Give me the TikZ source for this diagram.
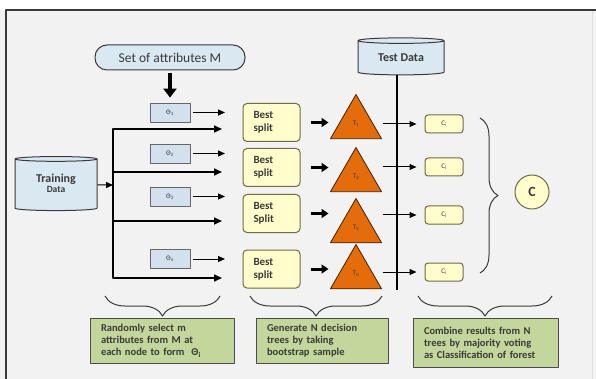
\documentclass[tikz,border=0pt]{standalone}
\usepackage{fontspec}
\setmainfont{Carlito}
\usepackage{xcolor}
\usetikzlibrary{arrows.meta,shapes.geometric,decorations.pathreplacing,positioning}
\definecolor{pagegray}{HTML}{F2F2F2}
\definecolor{dbblue}{HTML}{DAE8F2}
\definecolor{thetablue}{HTML}{D3E0EE}
\definecolor{splityel}{HTML}{FFFDCC}
\definecolor{treeorange}{HTML}{E46C0A}
\definecolor{notegreen}{HTML}{C3D69B}
\definecolor{inkgray}{HTML}{3A3A3A}
\definecolor{olivedge}{HTML}{6F6B45}
\tikzset{
  every picture/.style={line join=round, >=Stealth},
  attrset/.style={draw=inkgray, line width=1pt, fill=dbblue, rounded corners=12pt,
    minimum width=150pt, minimum height=25pt, text=inkgray, font=\fontsize{13.5}{15}\selectfont},
  datacyl/.style={cylinder, shape border rotate=90, draw=inkgray, line width=1pt, fill=dbblue,
    aspect=0.12, inner sep=0pt, text=inkgray, align=center},
  thetabox/.style={draw=gray!80!black, line width=0.8pt, fill=thetablue, minimum width=40pt,
    minimum height=19pt, inner sep=0pt, text=inkgray, font=\fontsize{7}{8}\selectfont},
  splitbox/.style={draw=olivedge, line width=1pt, fill=splityel, rounded corners=4pt,
    minimum width=57pt, minimum height=38pt, inner sep=0pt, text width=36pt, align=left,
    text=inkgray, font=\bfseries\fontsize{11}{13}\selectfont},
  tree/.style={regular polygon, regular polygon sides=3, minimum size=59pt, inner sep=0pt,
    draw=black!70!treeorange, line width=0.8pt, fill=treeorange, text=inkgray,
    font=\fontsize{7}{8}\selectfont},
  cbox/.style={draw=olivedge, line width=1pt, fill=splityel, rounded corners=3pt,
    minimum width=38pt, minimum height=18pt, inner sep=0pt, text=inkgray,
    font=\fontsize{7}{8}\selectfont},
  vote/.style={circle, draw=olivedge, line width=1pt, fill=splityel, minimum size=34pt,
    inner sep=0pt, text=inkgray, font=\bfseries\fontsize{14}{16}\selectfont},
  note/.style={draw=gray!60!black, line width=1pt, fill=notegreen, inner xsep=11pt,
    inner ysep=0pt, align=left, text=inkgray, font=\bfseries\fontsize{10.5}{12}\selectfont},
  thinarr/.style={->, line width=1pt, >={Triangle[length=7pt,width=6pt]}},
  trunk/.style={line width=1.6pt, >={Triangle[length=8pt,width=7pt]}},
  fatarr/.style={->, line width=3pt, >={Triangle[length=7pt,width=9pt]}},
  curly/.style={decorate, line width=1pt, draw=inkgray},
}

\begin{document}
\begin{tikzpicture}[x=1pt,y=-1pt]
\useasboundingbox (0,0) rectangle (596,379);
\fill[pagegray] (0,0) rectangle (596,379);
\fill[white] (0,0) rectangle (596,10);
\draw[gray!25] (592,10)--(592,379);
\draw[line width=1.5pt,inkgray] (596,10)--(6,10)--(6,379);

% inputs
\node[attrset] (attr) at (170,57.5) {Set of attributes M};
\node[datacyl, minimum width=82pt, minimum height=54pt] (train) at (56,185)
  {\raisebox{-5pt}{\bfseries\begin{tabular}{@{}c@{}}{\fontsize{12}{13}\selectfont Training}\\[-2pt]
   {\fontsize{9.5}{10}\selectfont Data}\end{tabular}}};
\node[datacyl, minimum width=86pt, minimum height=37pt] (test) at (401,58)
  {\raisebox{-2pt}{\bfseries\fontsize{12}{13}\selectfont Test Data}};

% attribute subsets
\node[thetabox] (th1) at (170,112.5) {Θ\textsubscript{1}};
\node[thetabox] (th2) at (170,153.5) {Θ\textsubscript{2}};
\node[thetabox] (th3) at (170,196.5) {Θ\textsubscript{3}};
\node[thetabox] (thn) at (170,259) {Θ\textsubscript{n}};
\draw[->, line width=4pt, >={Triangle[length=9pt,width=13pt]}, shorten <=3pt, shorten >=5pt]
  (attr.south) -- (th1.north);

% best splits
\node[splitbox] (s1) at (271.5,122.5) {Best\\split};
\node[splitbox] (s2) at (271.5,167.5) {Best\\split};
\node[splitbox] (s3) at (271.5,213.5) {Best\\Split};
\node[splitbox] (sn) at (271.5,269) {Best\\split};

% trees
\node[tree] (t1) at (356,124) {T\textsubscript{1}};
\node[tree] (t2) at (356,177) {T\textsubscript{2}};
\node[tree] (t3) at (356,228) {T\textsubscript{3}};
\node[tree] (tn) at (356,274) {T\textsubscript{n}};

% classifications
\node[cbox] (c1) at (444,124) {C\textsubscript{i}};
\node[cbox] (c2) at (444,167) {C\textsubscript{i}};
\node[cbox] (c3) at (444,215) {C\textsubscript{i}};
\node[cbox] (cn) at (444,272) {C\textsubscript{i}};
\node[vote] (cc) at (532,192) {C};

% bootstrap feed
\coordinate (trtop) at (113,129);
\coordinate (trbot) at (113,278);
\coordinate (trin) at (113,185);
\coordinate (br2) at (113,172);
\coordinate (br3) at (113,221);
\coordinate (in1) at (222,129);
\coordinate (in2) at (222,172);
\coordinate (in3) at (222,221);
\coordinate (inn) at (222,278);
\draw[trunk,<->] (in1) -- (trtop) -- (trbot) -- (inn);
\draw[trunk,->] (br2) -- (in2);
\draw[trunk,->] (br3) -- (in3);
\draw[thinarr] (train.east) -- (trin);

\draw[thinarr, shorten <=3pt, shorten >=-3pt] (th1.east) -- (th1.east -| in1);
\draw[thinarr, shorten <=3pt, shorten >=-3pt] (th2.east) -- (th2.east -| in2);
\draw[thinarr, shorten <=3pt, shorten >=-3pt] (th3.east) -- (th3.east -| in3);
\draw[thinarr, shorten <=3pt, shorten >=-3pt] (thn.east) -- (thn.east -| inn);

\draw[fatarr, shorten <=10pt, shorten >=10pt] (s1.east) -- (s1.east -| t1.west);
\draw[fatarr, shorten <=10pt, shorten >=10pt] (s2.east) -- (s2.east -| t2.west);
\draw[fatarr, shorten <=10pt, shorten >=10pt] (s3.east) -- (s3.east -| t3.west);
\draw[fatarr, shorten <=10pt, shorten >=10pt] (sn.east) -- (sn.east -| tn.west);

% test data line
\coordinate (testend) at (397,290);
\draw[line width=2pt] (test.south -| testend) -- (testend);

\draw[thinarr, shorten <=9pt, shorten >=8pt] (t1.east |- c1) -- (c1.west);
\draw[thinarr, shorten <=9pt, shorten >=8pt] (t2.east |- c2) -- (c2.west);
\draw[thinarr, shorten <=9pt, shorten >=8pt] (t3.east |- c3) -- (c3.west);
\draw[thinarr, shorten <=9pt, shorten >=8pt] (tn.east |- cn) -- (cn.west);

% braces
\draw[curly, decoration={brace, amplitude=18pt}] (480,118) -- (480,273);
\draw[curly, decoration={brace, amplitude=20pt}] (220,296) -- (105,296);
\draw[curly, decoration={brace, amplitude=20pt}] (382,296) -- (250,296);
\draw[curly, decoration={brace, amplitude=20pt}] (552,296) -- (418,296);

% notes
\node[note, text width=122pt, minimum height=45pt] (n1) at (162,340.5)
  {Randomly select m\\attributes from M at\\each node to form \ Θ\textsubscript{i}};
\node[note, text width=110pt, minimum height=45pt] (n2) at (322,340.5)
  {Generate N decision\\trees by taking\\bootstrap sample};
\node[note, text width=123pt, minimum height=49pt] (n3) at (485.5,342.5)
  {Combine results from N\\trees by majority voting\\as Classification of forest};
\end{tikzpicture}
\end{document}
